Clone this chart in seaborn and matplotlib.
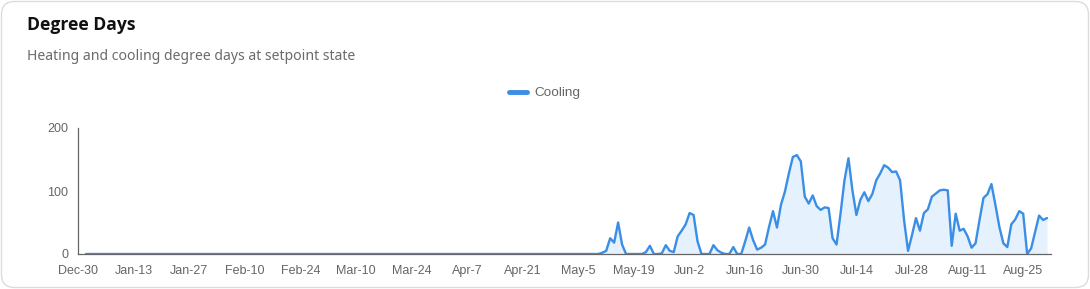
import matplotlib
matplotlib.use("Agg")
import matplotlib.pyplot as plt
import seaborn as sns
import pandas as pd
import numpy as np
from matplotlib.patches import FancyBboxPatch
from matplotlib.lines import Line2D

# ---------------- data ----------------
title = "Degree Days"
subtitle = "Heating and cooling degree days at setpoint state"
series_name = "Cooling"
start_date = "2025-01-01"
end_date = "2025-08-31"
# Jan 1 - May 10: no cooling degree days
cooling_winter_spring = [0] * 129
# May 11 - Aug 31
cooling_summer = [
    0, 2, 5, 25, 18, 50, 15, 0, 0, 0, 0, 0, 3, 13, 0, 0, 1, 14, 5, 3,
    28, 37, 47, 65, 62, 20, 0, 0, 0, 14, 6, 2, 0, 0, 11, 0, 0, 20, 42, 22,
    7, 10, 15, 43, 68, 42, 78, 99, 128, 154, 157, 147, 91, 80, 93, 76, 70, 74, 73, 25,
    15, 64, 117, 152, 101, 62, 86, 98, 84, 95, 117, 128, 141, 137, 130, 131, 117, 54, 5, 30,
    57, 37, 65, 71, 91, 96, 101, 102, 101, 13, 64, 37, 40, 28, 10, 17, 54, 89, 95, 111,
    78, 43, 17, 11, 47, 55, 68, 64, 0, 9, 35, 61, 54, 57,
]
y_ticks = [0, 100, 200]
axis_start = "2024-12-30"
axis_end = "2025-09-01"

dates = pd.date_range(start_date, end_date, freq="D")
cooling = cooling_winter_spring + cooling_summer
df = pd.DataFrame({"date": dates, "cooling": cooling})

# ---------------- style ----------------
sns.set_theme(style="white")
plt.rcParams["font.family"] = ["Liberation Sans", "DejaVu Sans"]

W, H = 1090, 289
fig = plt.figure(figsize=(W / 100, H / 100), dpi=100)
fig.patch.set_facecolor("white")

card = FancyBboxPatch((1.5 / W, 1.5 / H), (W - 3) / W, (H - 3) / H,
                      boxstyle="round,pad=0,rounding_size=0.012",
                      transform=fig.transFigure, facecolor="white",
                      edgecolor="#dcdcdc", linewidth=1.0, mutation_aspect=W / H,
                      zorder=-10)
fig.patches.append(card)

fig.text(27 / W, 1 - 25.5 / H, title, fontsize=12.6, fontweight="bold",
         color="#111111", va="center", ha="left", family=["Open Sans", "DejaVu Sans"])
fig.text(27 / W, 1 - 57 / H, subtitle, fontsize=10.1, color="#6b6b6b",
         va="center", ha="left", family=["Noto Sans", "DejaVu Sans"])

left, right, top, bottom = 78, 1051, 128, 254
ax = fig.add_axes([left / W, 1 - bottom / H, (right - left) / W, (bottom - top) / H])
ax.set_facecolor("none")
ax.set_zorder(5)

line_color = "#3b8ee6"
sns.lineplot(data=df, x="date", y="cooling", ax=ax, color=line_color,
             linewidth=1.7, legend=False)
ax.fill_between(df["date"], df["cooling"], 0, color="#e3f0fd", alpha=0.9, linewidth=0)

ax.set_xlim(pd.Timestamp(axis_start), pd.Timestamp(axis_end))
ax.set_ylim(0, 200)
ax.set_xlabel("")
ax.set_ylabel("")

weeks = pd.date_range(axis_start, axis_end, freq="7D")
labels = [f"{d.strftime('%b')}-{d.day}" if i % 2 == 0 else "" for i, d in enumerate(weeks)]
ax.set_xticks(weeks)
ax.set_xticklabels(labels)
ax.set_yticks(y_ticks)
ax.set_yticklabels([str(v) for v in y_ticks])

for s in ["top", "right"]:
    ax.spines[s].set_visible(False)
for s in ["left", "bottom"]:
    ax.spines[s].set_color("#666666")
    ax.spines[s].set_linewidth(0.9)
ax.tick_params(axis="both", which="major", length=5, width=0.9, color="#666666",
               labelcolor="#666666", labelsize=9, pad=2, direction="out")
ax.tick_params(axis="x", pad=3)
ax.grid(False)

handle = Line2D([0], [0], color=line_color, linewidth=3.5)
fig.legend([handle], [series_name], loc="center", bbox_to_anchor=(0.5, 1 - 93 / H),
           frameon=False, handlelength=1.3, handletextpad=0.6, fontsize=9.7,
           labelcolor="#666666")

fig.savefig("out.png", dpi=100, facecolor="white")
